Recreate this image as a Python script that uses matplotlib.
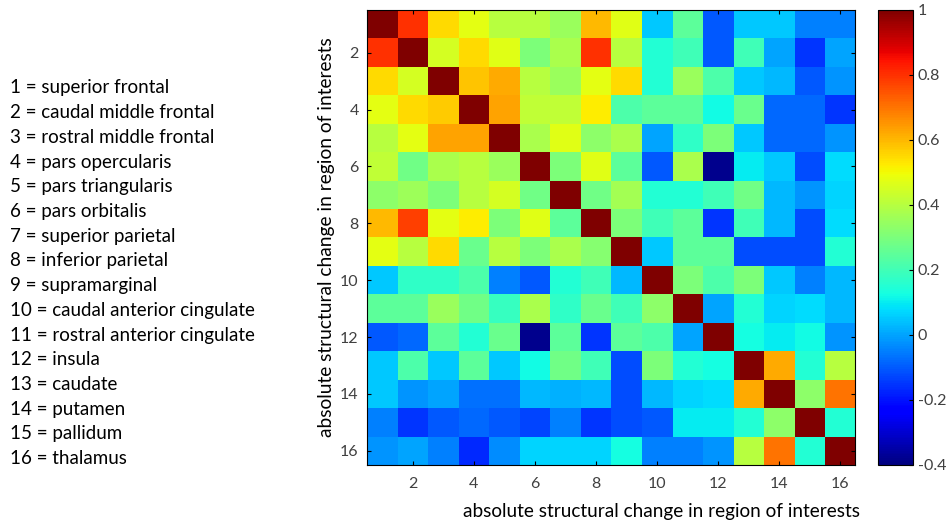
import numpy as np
import matplotlib.pyplot as plt

plt.rcParams['font.family'] = ['Lato', 'DejaVu Sans']

# Region names
regions = ['superior frontal', 'caudal middle frontal', 'rostral middle frontal',
           'pars opercularis', 'pars triangularis', 'pars orbitalis',
           'superior parietal', 'inferior parietal', 'supramarginal',
           'caudal anterior cingulate', 'rostral anterior cingulate', 'insula',
           'caudate', 'putamen', 'pallidum', 'thalamus']

# Correlation matrix (rows 1..16)
r1 = [1.00, 0.80, 0.55, 0.48, 0.40, 0.40, 0.35, 0.60, 0.47, 0.05, 0.25, -0.10, 0.05, 0.05, -0.05, -0.05]
r2 = [0.80, 1.00, 0.45, 0.55, 0.47, 0.30, 0.38, 0.80, 0.40, 0.15, 0.20, -0.10, 0.20, 0.00, -0.15, 0.00]
r3 = [0.55, 0.45, 1.00, 0.58, 0.62, 0.40, 0.35, 0.48, 0.55, 0.15, 0.35, 0.22, 0.05, 0.03, -0.10, -0.02]
r4 = [0.48, 0.55, 0.57, 1.00, 0.63, 0.42, 0.42, 0.52, 0.22, 0.25, 0.25, 0.12, 0.27, -0.08, -0.08, -0.15]
r5 = [0.40, 0.48, 0.63, 0.63, 1.00, 0.38, 0.47, 0.33, 0.38, 0.00, 0.17, 0.30, 0.05, -0.08, -0.08, -0.02]
r6 = [0.42, 0.28, 0.38, 0.40, 0.35, 1.00, 0.30, 0.47, 0.25, -0.10, 0.38, -0.38, 0.10, 0.05, -0.12, 0.08]
r7 = [0.33, 0.36, 0.30, 0.40, 0.45, 0.28, 1.00, 0.28, 0.37, 0.15, 0.15, 0.20, 0.28, 0.03, -0.02, 0.07]
r8 = [0.60, 0.78, 0.48, 0.52, 0.30, 0.47, 0.25, 1.00, 0.30, 0.20, 0.25, -0.15, 0.20, 0.03, -0.12, 0.08]
r9 = [0.48, 0.40, 0.55, 0.27, 0.40, 0.30, 0.38, 0.32, 1.00, 0.05, 0.25, 0.25, -0.12, -0.12, -0.12, 0.15]
r10 = [0.05, 0.17, 0.17, 0.22, -0.05, -0.10, 0.15, 0.20, 0.03, 1.00, 0.30, 0.22, 0.30, 0.05, -0.05, 0.03]
r11 = [0.25, 0.25, 0.35, 0.28, 0.18, 0.38, 0.17, 0.27, 0.20, 0.33, 1.00, 0.00, 0.15, 0.07, 0.08, 0.03]
r12 = [-0.10, -0.08, 0.25, 0.15, 0.27, -0.38, 0.25, -0.15, 0.25, 0.22, 0.00, 1.00, 0.13, 0.10, 0.12, -0.02]
r13 = [0.05, 0.22, 0.05, 0.25, 0.05, 0.12, 0.28, 0.20, -0.12, 0.30, 0.15, 0.13, 1.00, 0.62, 0.15, 0.40]
r14 = [0.05, -0.02, 0.00, -0.07, -0.07, 0.03, 0.02, 0.03, -0.12, 0.03, 0.07, 0.08, 0.62, 1.00, 0.33, 0.70]
r15 = [-0.05, -0.15, -0.10, -0.08, -0.10, -0.13, -0.05, -0.15, -0.12, -0.10, 0.10, 0.10, 0.15, 0.33, 1.00, 0.15]
r16 = [-0.02, 0.00, -0.05, -0.17, -0.03, 0.07, 0.07, 0.07, 0.13, -0.05, -0.05, -0.02, 0.40, 0.70, 0.15, 1.00]
corr = np.array([r1, r2, r3, r4, r5, r6, r7, r8, r9, r10, r11, r12, r13, r14, r15, r16])

ticks = [2, 4, 6, 8, 10, 12, 14, 16]
cbar_ticks = [-0.4, -0.2, 0, 0.2, 0.4, 0.6, 0.8, 1]

fig = plt.figure(figsize=(9.46, 5.26), dpi=100)
ax = fig.add_axes([0.388, 0.116, 0.516, 0.865])
im = ax.imshow(corr, cmap='jet', vmin=-0.4, vmax=1, aspect='auto',
               extent=(0.5, 16.5, 16.5, 0.5), interpolation='nearest')
ax.set_xticks(ticks)
ax.set_yticks(ticks)
ax.tick_params(direction='in', top=True, right=True, labelsize=11.5,
               length=3, labelcolor='#404040')
ax.tick_params(axis='x', pad=9)
ax.tick_params(axis='y', pad=6)
ax.set_ylabel('absolute structural change in region of interests', fontsize=13.8, labelpad=4)

fig.text(0.699, 0.027, 'absolute structural change in region of interests',
         ha='center', va='center', fontsize=13.7)

cax = fig.add_axes([0.928, 0.116, 0.037, 0.865])
cb = fig.colorbar(im, cax=cax, ticks=cbar_ticks)
cb.ax.tick_params(direction='in', labelsize=11.5, length=3, labelcolor='#404040')
cb.ax.set_yticklabels(['-0.4', '-0.2', '0', '0.2', '0.4', '0.6', '0.8', '1'])

# Region key on the left
for i, name in enumerate(regions):
    fig.text(0.011, 0.833 - i * 0.047, f'{i + 1} = {name}',
             ha='left', va='center', fontsize=13.5)

fig.savefig('out.png', dpi=100)
